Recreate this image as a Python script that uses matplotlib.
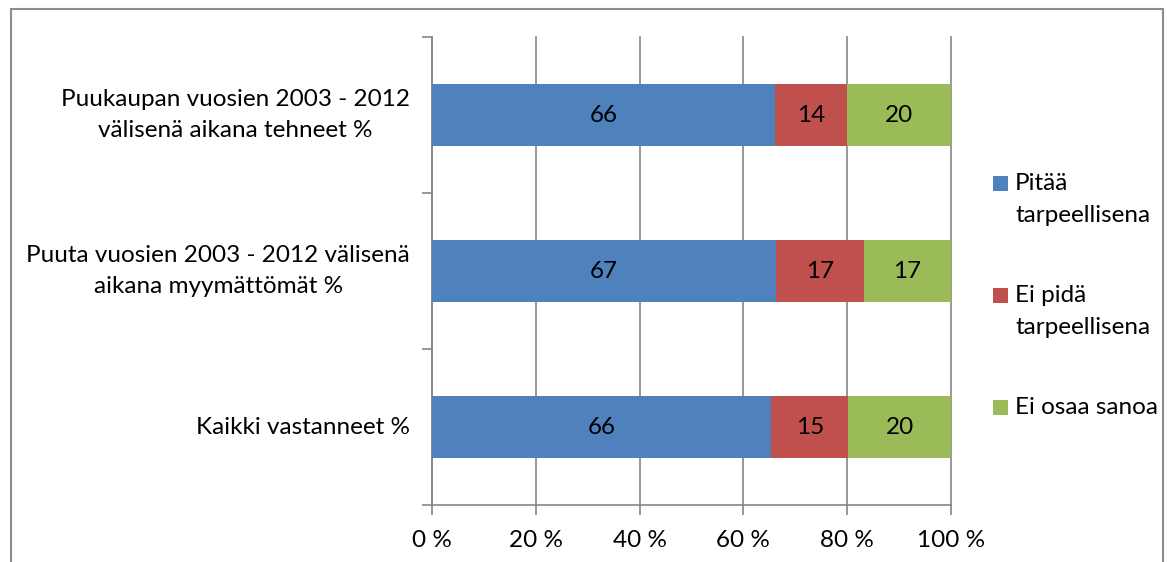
import matplotlib
matplotlib.use("Agg")
import matplotlib.pyplot as plt
import matplotlib.transforms as mtransforms
from matplotlib.patches import Rectangle
import numpy as np

categories = ["Puukaupan vuosien 2003 - 2012\nvälisenä aikana tehneet %",
              "Puuta vuosien 2003 - 2012 välisenä\naikana myymättömät %",
              "Kaikki vastanneet %"]
series_names = ["Pitää\ntarpeellisena", "Ei pidä\ntarpeellisena", "Ei osaa sanoa"]
pitaa = [66, 67, 66]
ei_pida = [14, 17, 15]
ei_osaa = [20, 17, 20]
xtick_labels = ["0 %", "20 %", "40 %", "60 %", "80 %", "100 %"]
colors = ["#4F81BD", "#C0504D", "#9BBB59"]

plt.rcParams['font.family'] = ['Lato', 'DejaVu Sans']
FS = 17.5
LS = 1.55

fig = plt.figure(figsize=(11.67, 5.62), dpi=100)
W, H = 1167, 562
ax = fig.add_axes([432 / W, 1 - 505 / H, (951 - 432) / W, (505 - 37) / H])

data = np.array([pitaa, ei_pida, ei_osaa], dtype=float)
totals = data.sum(axis=0)
pct = data / totals * 100
ypos = np.arange(len(categories))[::-1]

left = np.zeros(len(categories))
for i in range(3):
    ax.barh(ypos, pct[i], left=left, height=0.4, color=colors[i],
            label=series_names[i], zorder=3)
    for j in range(len(categories)):
        ax.text(left[j] + pct[i][j] / 2, ypos[j], f"{int(data[i][j])}",
                ha='center', va='center', fontsize=FS, color='black', zorder=4)
    left = left + pct[i]

ax.set_xlim(0, 100)
ax.set_ylim(-0.5, 2.5)
ax.set_xticks([0, 20, 40, 60, 80, 100])
ax.set_xticklabels(xtick_labels, fontsize=FS)
ax.set_yticks([-0.5, 0.5, 1.5, 2.5])
ax.set_yticklabels([])
gc = "#868686"
ax.grid(axis='x', color=gc, linewidth=1.2, zorder=0)
for gl in ax.get_xgridlines():
    gl.set_clip_on(False)
ax.tick_params(axis='x', length=7, color=gc, width=1.2, pad=11)
ax.tick_params(axis='y', length=7, color=gc, width=1.2)
for s in ['top', 'right']:
    ax.spines[s].set_visible(False)
for s in ['left', 'bottom']:
    ax.spines[s].set_color(gc)
    ax.spines[s].set_linewidth(1.2)

trans = mtransforms.offset_copy(ax.get_yaxis_transform(), fig=fig, x=-22, y=0, units='dots')
for j, c in enumerate(categories):
    ax.text(0, ypos[j], c, transform=trans, ha='right', va='center',
            multialignment='center', fontsize=FS, linespacing=LS)

# legend drawn manually (Excel style: marker aligned with first line)
leg_first_line_y = [183, 295, 407]
for i, name in enumerate(series_names):
    yc = 1 - leg_first_line_y[i] / H
    fig.patches.append(Rectangle((993 / W, yc - 7.5 / H), 15 / W, 15 / H,
                                 transform=fig.transFigure, facecolor=colors[i],
                                 edgecolor='none'))
    fig.text(1015 / W, yc, name.split("\n")[0], ha='left', va='center', fontsize=FS)
    if "\n" in name:
        fig.text(1015 / W, yc - 32 / H, name.split("\n")[1], ha='left', va='center',
                 fontsize=FS)

fig.patches.append(Rectangle((11 / W, -0.05), (1163 - 11) / W, 1.05 - 9 / H,
                             transform=fig.transFigure, fill=False,
                             edgecolor='#8C8C8C', linewidth=1.5))

fig.savefig("out.png", dpi=100)
